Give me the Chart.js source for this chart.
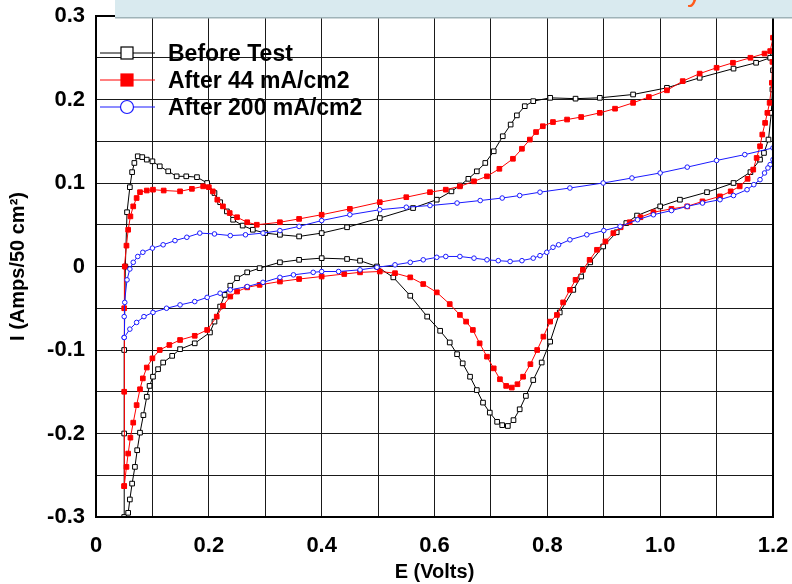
<!DOCTYPE html>
<html>
<head>
<meta charset="utf-8">
<script src="https://cdn.jsdelivr.net/npm/chart.js@4/dist/chart.umd.min.js"></script>
<style>
  html, body { margin: 0; padding: 0; background: #fff; }
  #wrap { width: 792px; height: 584px; position: relative; }
</style>
</head>
<body>
<div id="wrap"><canvas id="cvChart"></canvas></div>
<script>
// tick labels (labels only on every other grid line)
const xTickLabels = ['0', '0.2', '0.4', '0.6', '0.8', '1.0', '1.2'];
const yTickLabels = ['-0.3', '-0.2', '-0.1', '0', '0.1', '0.2', '0.3'];
const seriesNames = ['Before Test', 'After 44 mA/cm2', 'After 200 mA/cm2'];

// Before Test: E (V) and I (A), anodic sweep then cathodic sweep
const beforeE = [0.050, 0.050, 0.050, 0.052, 0.055, 0.060, 0.064, 0.068, 0.074, 0.082, 0.090, 0.100, 0.113, 0.128, 0.143, 0.160, 0.179, 0.197, 0.210, 0.220, 0.232, 0.243, 0.260, 0.278, 0.300, 0.326, 0.360, 0.400, 0.445, 0.503, 0.562, 0.604, 0.630, 0.645, 0.660, 0.675, 0.690, 0.705, 0.721, 0.735, 0.746, 0.760, 0.775, 0.805, 0.850, 0.893, 0.952, 1.012, 1.070, 1.130, 1.170, 1.195, 1.200,
  1.200, 1.199, 1.197, 1.192, 1.184, 1.177, 1.160, 1.130, 1.083, 1.035, 1.000, 0.959, 0.940, 0.923, 0.899, 0.876, 0.860, 0.846, 0.822, 0.805, 0.790, 0.775, 0.762, 0.751, 0.740, 0.730, 0.720, 0.711, 0.698, 0.686, 0.675, 0.663, 0.650, 0.640, 0.627, 0.610, 0.587, 0.557, 0.527, 0.498, 0.468, 0.445, 0.400, 0.360, 0.326, 0.290, 0.268, 0.250, 0.238, 0.228, 0.220, 0.210, 0.202, 0.175, 0.149, 0.135, 0.119, 0.110, 0.101, 0.095, 0.090, 0.084, 0.078, 0.073, 0.069, 0.064, 0.060, 0.057];
const beforeI = [-0.300, -0.200, -0.100, 0.000, 0.065, 0.095, 0.113, 0.124, 0.132, 0.131, 0.128, 0.126, 0.120, 0.114, 0.108, 0.108, 0.107, 0.100, 0.088, 0.077, 0.066, 0.056, 0.049, 0.044, 0.040, 0.038, 0.036, 0.040, 0.047, 0.058, 0.070, 0.080, 0.090, 0.097, 0.105, 0.114, 0.124, 0.138, 0.156, 0.170, 0.181, 0.192, 0.198, 0.202, 0.201, 0.202, 0.206, 0.214, 0.226, 0.237, 0.244, 0.250, 0.256,
  0.235, 0.212, 0.184, 0.152, 0.136, 0.128, 0.113, 0.100, 0.089, 0.080, 0.072, 0.061, 0.052, 0.041, 0.024, 0.005, -0.012, -0.028, -0.055, -0.090, -0.115, -0.136, -0.155, -0.171, -0.184, -0.191, -0.190, -0.186, -0.175, -0.163, -0.148, -0.132, -0.116, -0.105, -0.091, -0.077, -0.060, -0.035, -0.013, 0.000, 0.007, 0.009, 0.010, 0.008, 0.005, -0.002, -0.007, -0.014, -0.023, -0.034, -0.048, -0.066, -0.079, -0.092, -0.099, -0.107, -0.115, -0.123, -0.132, -0.143, -0.156, -0.178, -0.199, -0.220, -0.240, -0.260, -0.279, -0.295];

// After 44 mA/cm2
const after44E = [0.050, 0.050, 0.050, 0.051, 0.054, 0.057, 0.061, 0.066, 0.072, 0.078, 0.090, 0.101, 0.120, 0.149, 0.170, 0.190, 0.200, 0.207, 0.215, 0.225, 0.237, 0.250, 0.268, 0.285, 0.326, 0.360, 0.400, 0.450, 0.503, 0.550, 0.592, 0.620, 0.645, 0.670, 0.693, 0.715, 0.739, 0.755, 0.769, 0.780, 0.792, 0.810, 0.835, 0.860, 0.893, 0.920, 0.952, 0.980, 1.012, 1.040, 1.070, 1.100, 1.129, 1.160, 1.185, 1.195, 1.200,
  1.199, 1.198, 1.194, 1.190, 1.186, 1.181, 1.177, 1.171, 1.165, 1.155, 1.141, 1.125, 1.106, 1.075, 1.048, 1.020, 0.988, 0.965, 0.946, 0.930, 0.917, 0.903, 0.888, 0.875, 0.863, 0.850, 0.840, 0.828, 0.817, 0.805, 0.793, 0.782, 0.770, 0.757, 0.747, 0.737, 0.727, 0.716, 0.705, 0.693, 0.680, 0.668, 0.656, 0.645, 0.627, 0.604, 0.580, 0.557, 0.530, 0.503, 0.468, 0.440, 0.400, 0.360, 0.326, 0.290, 0.268, 0.250, 0.238, 0.225, 0.214, 0.197, 0.175, 0.149, 0.130, 0.113, 0.100, 0.090, 0.083, 0.078, 0.072, 0.066, 0.061, 0.057, 0.054, 0.050];
const after44I = [-0.263, -0.150, -0.050, 0.000, 0.025, 0.044, 0.060, 0.072, 0.082, 0.089, 0.091, 0.092, 0.091, 0.090, 0.093, 0.096, 0.095, 0.090, 0.080, 0.072, 0.064, 0.059, 0.053, 0.050, 0.053, 0.057, 0.062, 0.069, 0.077, 0.083, 0.089, 0.092, 0.096, 0.102, 0.108, 0.117, 0.129, 0.141, 0.152, 0.161, 0.168, 0.173, 0.176, 0.179, 0.184, 0.189, 0.196, 0.203, 0.211, 0.222, 0.231, 0.238, 0.244, 0.250, 0.255, 0.258, 0.274,
  0.245, 0.220, 0.196, 0.184, 0.172, 0.158, 0.144, 0.130, 0.116, 0.105, 0.096, 0.090, 0.084, 0.078, 0.072, 0.069, 0.065, 0.059, 0.053, 0.047, 0.040, 0.030, 0.020, 0.008, -0.004, -0.016, -0.028, -0.043, -0.058, -0.066, -0.084, -0.100, -0.117, -0.132, -0.141, -0.145, -0.143, -0.135, -0.122, -0.108, -0.092, -0.076, -0.066, -0.058, -0.045, -0.031, -0.021, -0.013, -0.008, -0.006, -0.007, -0.009, -0.012, -0.015, -0.018, -0.022, -0.025, -0.030, -0.036, -0.047, -0.060, -0.076, -0.083, -0.088, -0.094, -0.100, -0.110, -0.121, -0.134, -0.147, -0.166, -0.187, -0.205, -0.224, -0.240, -0.263];

// After 200 mA/cm2
const after200E = [0.050, 0.050, 0.051, 0.055, 0.060, 0.066, 0.074, 0.083, 0.100, 0.119, 0.140, 0.161, 0.184, 0.210, 0.238, 0.265, 0.296, 0.326, 0.360, 0.400, 0.450, 0.503, 0.550, 0.592, 0.640, 0.681, 0.720, 0.751, 0.787, 0.840, 0.899, 0.950, 1.000, 1.048, 1.100, 1.150, 1.200,
  1.200, 1.195, 1.191, 1.185, 1.177, 1.166, 1.154, 1.130, 1.106, 1.075, 1.048, 1.020, 0.988, 0.960, 0.929, 0.900, 0.870, 0.840, 0.820, 0.810, 0.799, 0.787, 0.775, 0.755, 0.734, 0.713, 0.693, 0.670, 0.645, 0.620, 0.604, 0.580, 0.557, 0.530, 0.498, 0.468, 0.430, 0.400, 0.385, 0.350, 0.326, 0.296, 0.268, 0.238, 0.220, 0.197, 0.175, 0.149, 0.125, 0.101, 0.085, 0.072, 0.060, 0.050];
const after200I = [-0.085, -0.060, -0.043, -0.016, -0.003, 0.005, 0.012, 0.017, 0.022, 0.026, 0.031, 0.035, 0.040, 0.039, 0.037, 0.038, 0.040, 0.043, 0.048, 0.055, 0.062, 0.068, 0.071, 0.073, 0.076, 0.079, 0.082, 0.085, 0.089, 0.094, 0.100, 0.106, 0.112, 0.119, 0.127, 0.134, 0.142,
  0.128, 0.122, 0.118, 0.112, 0.104, 0.098, 0.092, 0.085, 0.080, 0.076, 0.072, 0.067, 0.062, 0.056, 0.048, 0.043, 0.038, 0.032, 0.026, 0.023, 0.017, 0.013, 0.010, 0.007, 0.006, 0.007, 0.008, 0.010, 0.012, 0.012, 0.011, 0.008, 0.005, 0.002, -0.001, -0.004, -0.006, -0.006, -0.007, -0.010, -0.013, -0.019, -0.024, -0.028, -0.032, -0.037, -0.042, -0.046, -0.050, -0.055, -0.060, -0.067, -0.075, -0.085];

function toPoints(xs, ys) {
  return xs.map((x, i) => ({ x: x, y: ys[i] }));
}

const FONT = "'Liberation Sans', Arial, sans-serif";

// light blue slide banner clipped at the top, plus frame and legend
const extras = {
  id: 'extras',
  afterDraw(chart) {
    const c = chart.ctx;
    const a = chart.chartArea;
    c.save();
    // frame around plot
    c.strokeStyle = '#000';
    c.lineWidth = 2;
    c.strokeRect(a.left, a.top, a.right - a.left, a.bottom - a.top);

    // legend
    const rows = [53, 80, 107];
    chart.data.datasets.forEach((ds, i) => {
      const y = rows[i];
      c.strokeStyle = ds.borderColor;
      c.lineWidth = 1;
      c.beginPath();
      c.moveTo(100, y);
      c.lineTo(155, y);
      c.stroke();
      c.lineWidth = 1.2;
      c.fillStyle = ds.pointBackgroundColor;
      c.strokeStyle = ds.borderColor;
      if (ds.pointStyle === 'circle') {
        c.beginPath();
        c.arc(127, y, 6.5, 0, Math.PI * 2);
        c.fill();
        c.stroke();
      } else {
        c.fillRect(121, y - 6, 12, 12);
        c.strokeRect(121, y - 6, 12, 12);
      }
      c.fillStyle = '#000';
      c.font = 'bold 23px ' + FONT;
      c.textBaseline = 'middle';
      c.textAlign = 'left';
      c.fillText(ds.label, 168, y + 2);
    });

    // banner
    c.fillStyle = '#d9eaef';
    c.fillRect(115, 0, 677, 17);
    c.fillStyle = '#9fb3b8';
    c.fillRect(115, 17, 677, 1.5);
    c.beginPath();
    c.rect(115, 0, 677, 17);
    c.clip();
    c.fillStyle = '#ff5a1a';
    c.font = '30px ' + FONT;
    c.textBaseline = 'alphabetic';
    c.fillText('y', 687, 1);
    c.restore();
  }
};

const ctx = document.getElementById('cvChart').getContext('2d');
const cvChart = new Chart(ctx, {
  type: 'scatter',
  data: {
    datasets: [{
      label: seriesNames[0],
      data: toPoints(beforeE, beforeI),
      showLine: true,
      borderColor: '#000000',
      backgroundColor: '#ffffff',
      pointBackgroundColor: '#ffffff',
      pointBorderColor: '#000000',
      pointStyle: 'rect',
      pointRadius: 3.3,
      pointBorderWidth: 1,
      borderWidth: 1,
      order: 3
    }, {
      label: seriesNames[1],
      data: toPoints(after44E, after44I),
      showLine: true,
      borderColor: '#ff0000',
      backgroundColor: '#ff0000',
      pointBackgroundColor: '#ff0000',
      pointBorderColor: '#ff0000',
      pointStyle: 'rect',
      pointRadius: 3.3,
      pointBorderWidth: 1,
      borderWidth: 1,
      order: 2
    }, {
      label: seriesNames[2],
      data: toPoints(after200E, after200I),
      showLine: true,
      borderColor: '#1a1aff',
      backgroundColor: '#ffffff',
      pointBackgroundColor: '#ffffff',
      pointBorderColor: '#1a1aff',
      pointStyle: 'circle',
      pointRadius: 2.3,
      pointBorderWidth: 1,
      borderWidth: 1,
      order: 1
    }]
  },
  options: {
    responsive: true,
    maintainAspectRatio: false,
    animation: false,
    layout: { padding: { top: 16, right: 19, left: 0, bottom: 0 } },
    scales: {
      x: {
        type: 'linear',
        min: 0,
        max: 1.2,
        afterFit: s => { s.height = 67; s.paddingLeft = 0; s.paddingRight = 0; },
        grid: { color: '#1a1a1a', lineWidth: 1, drawTicks: false },
        border: { display: true, color: '#000', width: 2 },
        ticks: {
          stepSize: 0.1,
          autoSkip: false,
          maxRotation: 0,
          padding: 16,
          color: '#000',
          font: { family: FONT, size: 22, weight: 'bold' },
          callback: (v, i) => (i % 2 === 0 ? xTickLabels[i / 2] : '')
        },
        title: {
          display: true,
          text: 'E (Volts)',
          color: '#000',
          padding: 0,
          font: { family: FONT, size: 20, weight: 'bold' }
        }
      },
      y: {
        type: 'linear',
        min: -0.3,
        max: 0.3,
        afterFit: s => { s.width = 96; s.paddingTop = 0; s.paddingBottom = 0; },
        grid: { color: '#1a1a1a', lineWidth: 1, drawTicks: false },
        border: { display: true, color: '#000', width: 2 },
        ticks: {
          stepSize: 0.05,
          autoSkip: false,
          padding: 11,
          color: '#000',
          font: { family: FONT, size: 22, weight: 'bold' },
          callback: (v, i) => (i % 2 === 0 ? yTickLabels[i / 2] : '')
        },
        title: {
          display: true,
          text: 'I (Amps/50 cm²)',
          color: '#000',
          padding: { top: 6, bottom: 0 },
          font: { family: FONT, size: 20, weight: 'bold' }
        }
      }
    },
    plugins: {
      legend: { display: false },
      tooltip: { enabled: false }
    }
  },
  plugins: [extras]
});
</script>
</body>
</html>
